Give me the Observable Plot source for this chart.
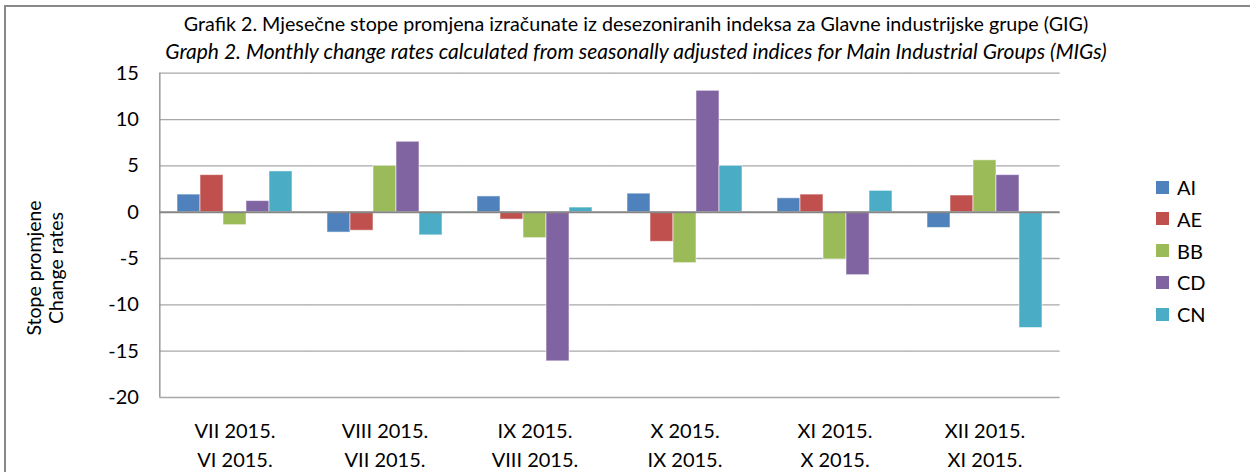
<!DOCTYPE html>
<html>
<head>
<meta charset="utf-8">
<script src="https://cdn.jsdelivr.net/npm/d3@7"></script>
<script src="https://cdn.jsdelivr.net/npm/@observablehq/plot@0.6"></script>
<style>
  html, body { margin: 0; padding: 0; background: #fff; }
  body { width: 1250px; height: 472px; overflow: hidden; position: relative; font-family: Lato, "Open Sans", sans-serif; color: #000; }
  #border { position: absolute; left: 4px; top: 5px; width: 1260px; height: 480px; border-left: 2px solid #898989; border-top: 2px solid #898989; }
  .title { position: absolute; left: 0; width: 1272px; text-align: center; line-height: 27px; white-space: nowrap; }
  #chart { position: absolute; left: 0; top: 60px; }
  #ylab { position: absolute; left: 45px; top: 268px; transform: translate(-50%, -50%) rotate(-90deg); text-align: center; font-size: 19.5px; line-height: 22px; white-space: nowrap; }
  .leg { position: absolute; left: 1156px; height: 24px; display: flex; align-items: center; font-size: 20px; white-space: nowrap; }
  .leg span.sw { display: inline-block; width: 13px; height: 13px; margin-right: 8px; }
</style>
</head>
<body>
<div id="border"></div>
<div class="title" style="top:10px;font-size:19.7px">Grafik 2. Mjesečne stope promjena izračunate iz desezoniranih indeksa za Glavne industrijske grupe (GIG)</div>
<div class="title" style="top:37px;font-size:21px;font-style:italic">Graph 2. Monthly change rates calculated from seasonally adjusted indices for Main Industrial Groups (MIGs)</div>
<div id="ylab">Stope promjene<br>Change rates</div>
<div id="chart"></div>
<div id="legend"></div>
<script>
// ---- data ----
const periodsTop = ["VII 2015.", "VIII 2015.", "IX 2015.", "X 2015.", "XI 2015.", "XII 2015."];
const periodsBottom = ["VI 2015.", "VII 2015.", "VIII 2015.", "IX 2015.", "X 2015.", "XI 2015."];
const series = ["AI", "AE", "BB", "CD", "CN"];
const valuesAI = [1.9, -2.2, 1.7, 2.0, 1.5, -1.7];
const valuesAE = [4.0, -2.0, -0.8, -3.2, 1.9, 1.8];
const valuesBB = [-1.4, 5.0, -2.8, -5.5, -5.1, 5.6];
const valuesCD = [1.2, 7.6, -16.1, 13.1, -6.8, 4.0];
const valuesCN = [4.4, -2.5, 0.5, 5.0, 2.3, -12.5];
const colors = ["#4F81BD", "#C0504D", "#9BBB59", "#8064A2", "#4BACC6"];
const yTicks = [-20, -15, -10, -5, 0, 5, 10, 15];

const seriesValues = [valuesAI, valuesAE, valuesBB, valuesCD, valuesCN];
const rows = [];
periodsTop.forEach((g, i) => series.forEach((s, j) => rows.push({g, s, v: seriesValues[j][i]})));

// ---- layout ----
const W = 1250, H = 412;
const marginLeft = 158, marginRight = 190, marginTop = 12.7, marginBottom = 75;
const plotW = W - marginLeft - marginRight;
const step = plotW / periodsTop.length;
const padIn = 0.235;
const gapHalf = step * padIn / 2;
const yDomain = [yTicks[0], yTicks[yTicks.length - 1]];

const chart = Plot.plot({
  width: W, height: H,
  marginLeft, marginRight, marginTop, marginBottom,
  style: {fontFamily: "Lato, 'Open Sans', sans-serif", fontSize: "20px", color: "#000", background: "transparent", overflow: "visible"},
  fx: {domain: periodsTop, paddingInner: padIn, paddingOuter: padIn / 2, label: null, axis: null},
  x: {domain: series, padding: 0, axis: null},
  y: {domain: yDomain, label: null},
  color: {domain: series, range: colors},
  marks: [
    Plot.ruleY(yTicks.filter(d => d !== 0), {stroke: "#a8a8a8", strokeWidth: 1.3, insetLeft: -gapHalf, insetRight: -gapHalf}),
    Plot.barY(rows, {fx: "g", x: "s", y: "v", fill: "s", stroke: "#ffffff", strokeOpacity: 0.55, strokeWidth: 1}),
    Plot.ruleY([0], {stroke: "#868686", strokeWidth: 2, insetLeft: -gapHalf, insetRight: -gapHalf}),
    Plot.ruleX([periodsTop[0]], {fx: d => d, x: null, y1: () => yDomain[0], y2: () => yDomain[1], dx: -step / 2, stroke: "#8a8a8a", strokeWidth: 1.3}),
    Plot.axisY({ticks: yTicks, tickSize: 0, tickPadding: gapHalf + 21, fontSize: 20, tickFormat: d => String(d), label: null}),
    Plot.axisFx({anchor: "bottom", tickSize: 0, tickPadding: 20, fontSize: 20, lineHeight: 1.45, label: null,
      tickFormat: d => d + "\n" + periodsBottom[periodsTop.indexOf(d)]})
  ]
});
document.getElementById("chart").appendChild(chart);

// ---- legend ----
const legend = document.getElementById("legend");
const legendTop = 175, legendStep = 31.8;
series.forEach((s, i) => {
  const row = document.createElement("div");
  row.className = "leg";
  row.style.top = (legendTop + i * legendStep) + "px";
  row.innerHTML = `<span class="sw" style="background:${colors[i]}"></span>${s}`;
  legend.appendChild(row);
});
</script>
</body>
</html>
